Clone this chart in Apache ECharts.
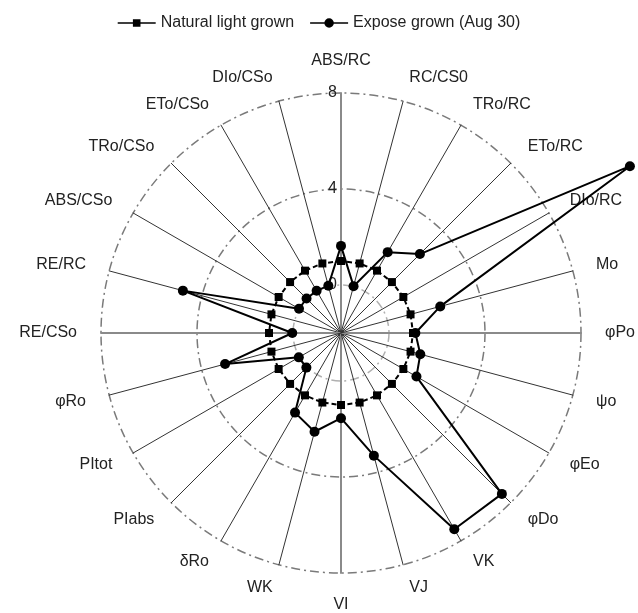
<!DOCTYPE html>
<html>
<head>
<meta charset="utf-8">
<script src="https://cdn.jsdelivr.net/npm/echarts@6/dist/echarts.min.js"></script>
<style>
html,body{margin:0;padding:0;background:#fff;}
#chart{width:638px;height:613px;}
</style>
</head>
<body>
<div id="chart"></div>
<script>
// Indicators in clockwise order starting from the top
var categories = ['ABS/RC','RC/CS0','TRo/RC','ETo/RC','DIo/RC','Mo','φPo','ψo','φEo','φDo','VK','VJ','VI','WK','δRo','PIabs','PItot','φRo','RE/CSo','RE/RC','ABS/CSo','TRo/CSo','ETo/CSo','DIo/CSo'];
var naturalLight = [1,1,1,1,1,1,1,1,1,1,1,1,1,1,1,1,1,1,1,1,1,1,1,1];
var exposeGrown = [1.63,0.02,1.89,2.65,11.9,2.28,1.1,1.42,1.63,7.48,7.44,3.29,1.55,2.26,1.83,0.04,0.03,3.0,0.03,4.82,0.02,0.03,0.03,0.04];
var tickLabels = ['0','4','8'];
var seriesNames = ['Natural light grown','Expose grown (Aug 30)'];

var FONT = 'Liberation Sans, Arial, sans-serif';
var n = categories.length;
// ECharts radar runs counter-clockwise; reorder so the chart reads clockwise
function cw(arr){ return arr.map(function(_, i){ return arr[i === 0 ? 0 : n - i]; }); }

var mainAxes = {'ABS/RC':1,'φPo':1,'VI':1,'RE/CSo':1};
var indicators = cw(categories).map(function(name, i){
  var ind = { name: name, min: -2, max: 8 };
  if (mainAxes[name]) ind.axisLine = { lineStyle: { color: '#8a8a8a', width: 2 } };
  if (i === 0) {
    ind.axisLabel = {
      show: true, fontSize: 16, color: '#222', fontFamily: FONT, margin: 4,
      formatter: function(v){ var s = String(v); return tickLabels.indexOf(s) >= 0 ? s : ''; }
    };
  }
  return ind;
});

var chart = echarts.init(document.getElementById('chart'), null, {renderer:'canvas'});
chart.setOption({
  animation: false,
  backgroundColor: '#fff',
  legend: {
    top: 10, left: 'center',
    itemWidth: 38, itemHeight: 10, itemGap: 16,
    textStyle: { fontSize: 16, color: '#222', fontFamily: FONT },
    data: [
      { name: seriesNames[0], icon: 'path://M0,4.2 H40 V5.8 H0 Z M16,1 H24 V9 H16 Z' },
      { name: seriesNames[1], icon: 'path://M0,4.2 H40 V5.8 H0 Z M25,5 A5,5 0 1 1 15,5 A5,5 0 1 1 25,5 Z' }
    ]
  },
  radar: {
    center: [341, 333],
    radius: 240,
    shape: 'circle',
    splitNumber: 5,
    startAngle: 90,
    indicator: indicators,
    axisName: { color: '#222', fontSize: 16, fontFamily: FONT },
    nameGap: 24,
    axisLine: { lineStyle: { color: '#333', width: 1 } },
    axisLabel: { show: false },
    axisTick: { show: false },
    splitArea: { show: false },
    splitLine: {
      lineStyle: {
        color: ['rgba(0,0,0,0)', '#b0b0b0', 'rgba(0,0,0,0)', '#7a7a7a', 'rgba(0,0,0,0)', '#7a7a7a'],
        width: 1.5,
        type: [9, 4, 2, 4]
      }
    }
  },
  series: [
    {
      name: seriesNames[0], type: 'radar', z: 3,
      symbol: 'rect', symbolSize: 8,
      itemStyle: { color: '#000' },
      lineStyle: { color: '#000', width: 2, type: [5, 3] },
      data: [{ value: cw(naturalLight), name: seriesNames[0] }]
    },
    {
      name: seriesNames[1], type: 'radar', z: 4,
      symbol: 'circle', symbolSize: 10,
      itemStyle: { color: '#000' },
      lineStyle: { color: '#000', width: 2 },
      data: [{ value: cw(exposeGrown), name: seriesNames[1] }]
    }
  ]
});
</script>
</body>
</html>
